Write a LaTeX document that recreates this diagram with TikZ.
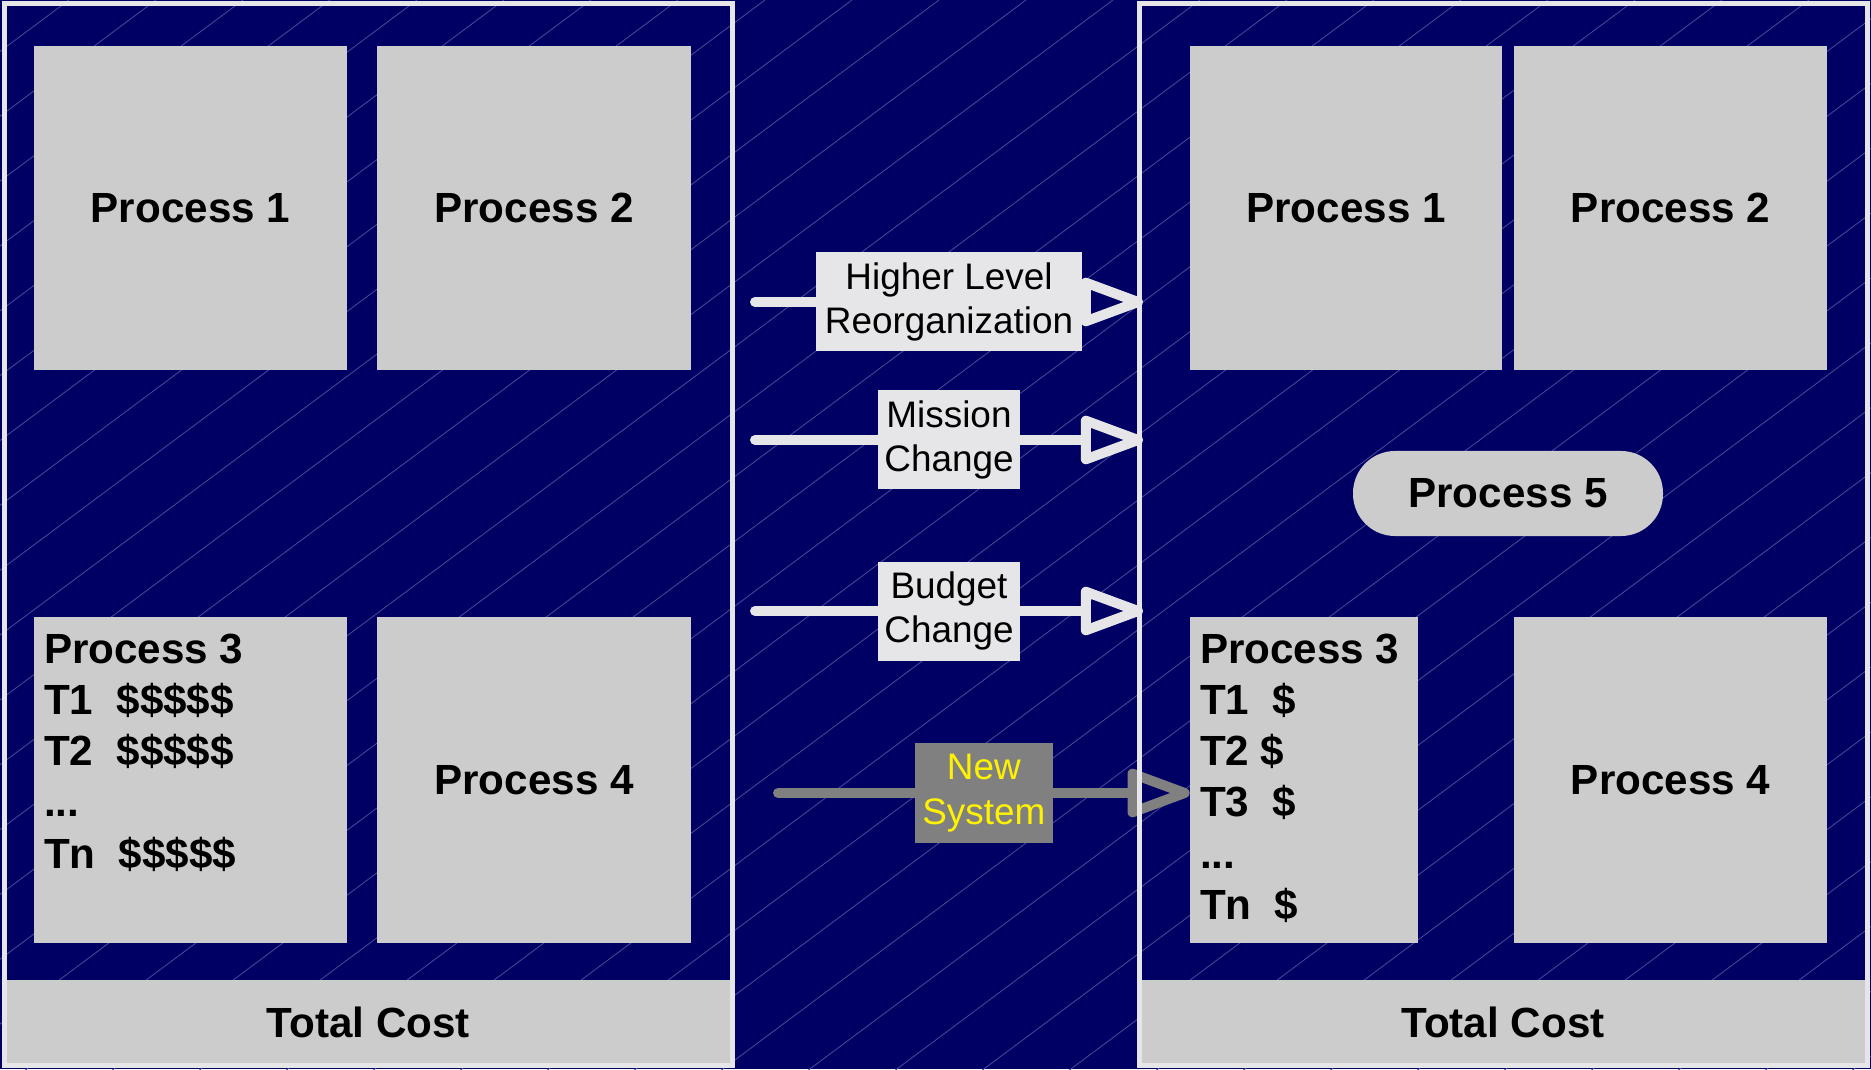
\documentclass[tikz,border=0pt]{standalone}
\usepackage{fontspec}
\setmainfont{Liberation Sans}
\usetikzlibrary{arrows.meta, positioning, calc}
\definecolor{slidenavy}{RGB}{0, 0, 100}
\definecolor{boxgray}{RGB}{204, 204, 204}
\definecolor{paleline}{RGB}{230, 230, 232}
\definecolor{sysgray}{RGB}{128, 128, 128}
\definecolor{hatchblue}{RGB}{70, 70, 150}

\begin{document}
\begin{tikzpicture}[
    proc/.style={fill=boxgray, inner sep=0pt, minimum width=6.26cm, minimum height=6.48cm, font=\fontsize{24}{29.1}\selectfont\bfseries},
    band/.style={fill=boxgray, inner sep=0pt, minimum width=14.56cm, minimum height=1.7cm, font=\fontsize{24}{29.1}\selectfont\bfseries},
    panel/.style={draw=paleline, line width=0.1cm, inner sep=0pt, outer sep=0pt, minimum width=14.56cm, minimum height=21.22cm},
    tasks/.style={anchor=north west, inner sep=0pt, align=left, font=\fontsize{24}{29.1}\selectfont\bfseries},
    lbl/.style={fill=paleline, inner sep=0pt, minimum height=1.98cm, align=center, font=\fontsize{21}{25.5}\selectfont},
    flow/.style={draw=paleline, line width=0.2cm, line cap=round, -{Triangle[open, round, length=1.45cm, width=1cm]}},
    hatch/.style={draw=hatchblue, line width=0.5pt}
  ]
  \useasboundingbox (0,0) rectangle (37.42,21.38);
  \fill[slidenavy] (0,0) rectangle (37.42,21.38);
  \begin{scope}
    \clip (0,0) rectangle (37.42,21.38);
    \foreach \k in {-9,...,30} \draw[hatch] ({15.30+1.74*\k},21.38) -- ++(216.7:37);
  \end{scope}

  % cost bands at the foot of both panels
  \node[band] (lcost) at (7.37,0.93) {Total Cost};
  \node[band] (rcost) at (30.06,0.93) {Total Cost};

  % left side
  \node[proc] (lp1) at (3.81,17.22) {Process 1};
  \node[proc, minimum width=6.28cm] (lp2) at (10.68,17.22) {Process 2};
  \node[proc, minimum height=6.52cm] (lp3) at (3.81,5.78) {};
  \node[proc, minimum width=6.28cm, minimum height=6.52cm] (lp4) at (10.68,5.78) {Process 4};
  \node[tasks] (ltasks) at ($(lp3.north west)+(0.2,-0.34)$)
    {Process 3\\T1~~\$\$\$\$\$\\T2~~\$\$\$\$\$\\...\\Tn~~\$\$\$\$\$};

  % right side
  \node[proc, minimum width=6.24cm] (rp1) at (26.92,17.22) {Process 1};
  \node[proc] (rp2) at (33.41,17.22) {Process 2};
  \node[proc, minimum width=6.2cm, minimum height=1.7cm, rounded corners=0.84cm] (rp5) at (30.16,11.51) {Process 5};
  \node[proc, minimum width=4.56cm, minimum height=6.52cm] (rp3) at (26.08,5.78) {};
  \node[proc, minimum height=6.52cm] (rp4) at (33.41,5.78) {Process 4};
  \node[tasks] (rtasks) at ($(rp3.north west)+(0.2,-0.34)$)
    {Process 3\\T1~~\$\\T2~\$\\T3~~\$\\...\\Tn~~\$};

  % changes between the two
  \coordinate (s1) at (15.1,15.34);
  \coordinate (e1) at (22.86,15.34);
  \coordinate (s2) at (15.1,12.58);
  \coordinate (e2) at (22.86,12.58);
  \coordinate (s3) at (15.1,9.16);
  \coordinate (e3) at (22.86,9.16);
  \coordinate (s4) at (15.56,5.52);
  \coordinate (e4) at (s4 -| rp3.west);
  \draw[flow] (s1) -- node[lbl, minimum width=5.32cm] (reorg) {Higher Level\\Reorganization} (e1);
  \draw[flow] (s2) -- node[lbl, minimum width=2.84cm] (mission) {Mission\\Change} (e2);
  \draw[flow] (s3) -- node[lbl, minimum width=2.84cm] (budget) {Budget\\Change} (e3);
  \draw[flow, draw=sysgray] (s4) -- node[lbl, fill=sysgray, text=yellow, minimum width=2.76cm, minimum height=2cm] (newsys) {New\\System} (e4);

  \node[panel] (lpanel) at (7.37,10.69) {};
  \node[panel] (rpanel) at (30.06,10.69) {};
\end{tikzpicture}
\end{document}
